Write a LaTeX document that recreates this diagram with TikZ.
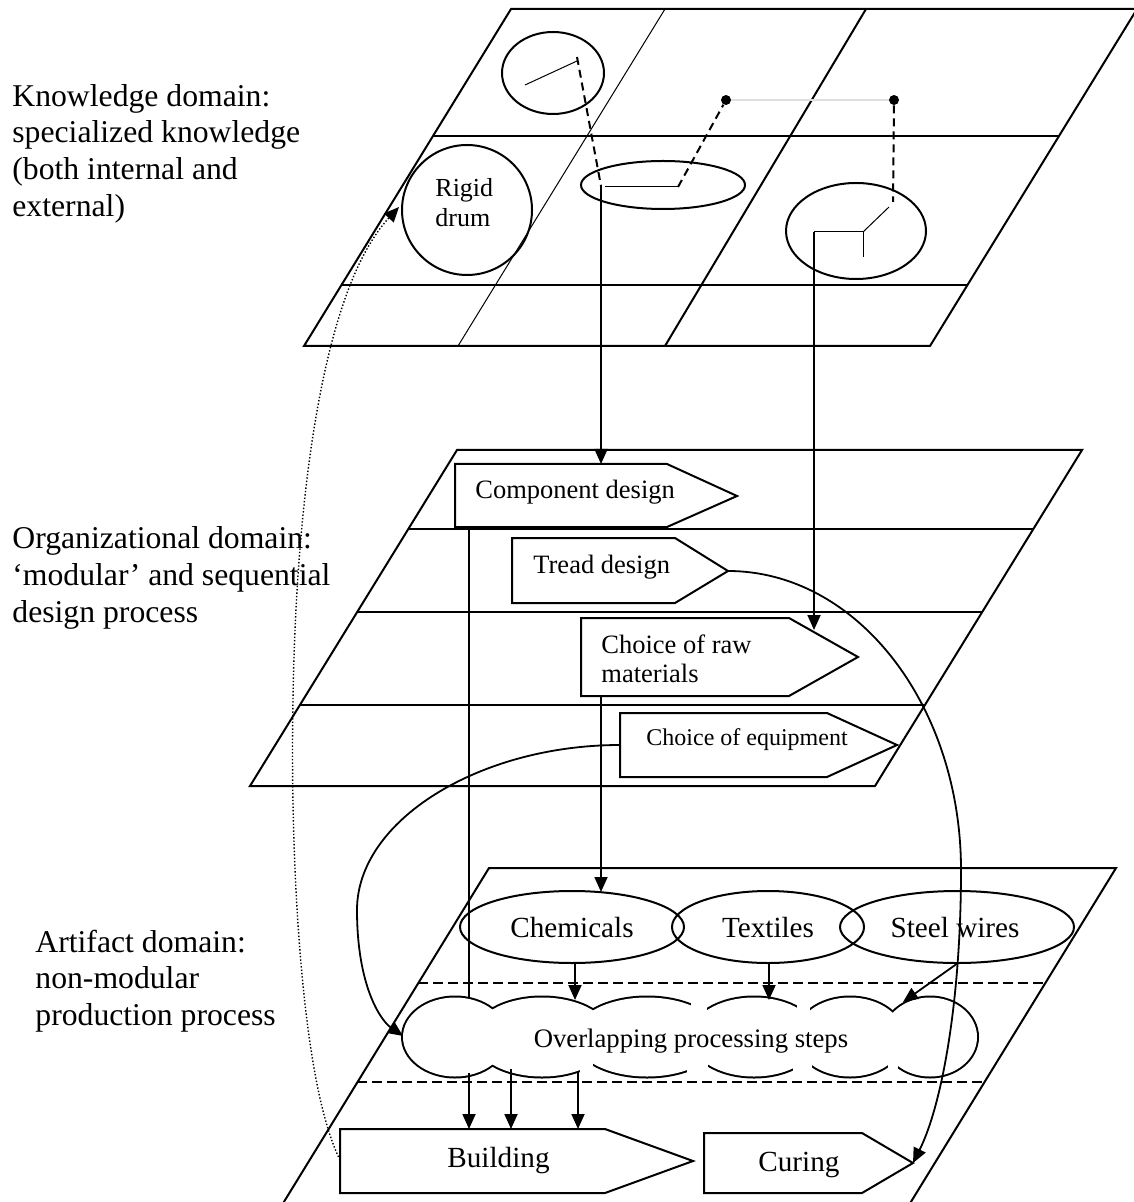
\documentclass[tikz,border=0pt]{standalone}
\usepackage{fontspec}
\setmainfont{Liberation Serif}
\usetikzlibrary{arrows.meta,shapes.geometric,calc}
\begin{document}
\begin{tikzpicture}[x=0.5pt,y=-0.5pt,
  edge/.style={line width=1pt},
  thinl/.style={line width=0.5pt},
  conn/.style={line width=0.9pt},
  tipa/.style={-{Triangle[length=7.5pt,width=6.5pt]}},
  dashl/.style={line width=1pt, dash pattern=on 4pt off 2.5pt},
  dashb/.style={line width=1pt, dash pattern=on 5pt off 2.5pt},
  dotl/.style={line width=0.7pt, dash pattern=on 0.7pt off 1pt},
  side/.style={font=\fontsize{15.85}{18}\selectfont, anchor=base west, inner sep=0pt},
  lblA/.style={font=\fontsize{13.25}{15}\selectfont, anchor=base west, inner sep=0pt},
  lblE/.style={font=\fontsize{12}{14}\selectfont, anchor=base west, inner sep=0pt},
  lblR/.style={font=\fontsize{13}{15}\selectfont, anchor=base west, inner sep=0pt},
  lblC/.style={font=\fontsize{14.6}{17}\selectfont, inner sep=0pt},
  lblO/.style={font=\fontsize{13.35}{15}\selectfont, anchor=base, inner sep=0pt},
  ell/.style={draw, line width=1pt, ellipse, inner sep=0pt},
  dotn/.style={circle, fill, minimum size=5pt, inner sep=0pt}
]
\useasboundingbox (0,0) rectangle (1133,1202);

% ---------- side labels ----------
\node[side] (kd1) at (12,107) {Knowledge domain:};
\node[side] (kd2) at (12,143) {specialized knowledge};
\node[side] (kd3) at (12,180) {(both internal and};
\node[side] (kd4) at (12,217) {external)};
\node[side] (od1) at (12,548) {Organizational domain:};
\node[side] (od2) at (12,585) {‘modular’ and sequential};
\node[side] (od3) at (12,622) {design process};
\node[side] (ad1) at (35,952) {Artifact domain:};
\node[side] (ad2) at (35,988) {non-modular};
\node[side] (ad3) at (35,1025) {production process};

% ---------- knowledge layer ----------
\draw[edge] (511,9) -- (1137,9) -- (930,346) -- (304,346) -- cycle;
\draw[edge] (433,136) -- (1059,136);
\draw[edge] (341,285) -- (967,285);
\draw[thinl] (665,9) -- (458,346);
\draw[edge] (866,9) -- (665,346);

\node[ell, minimum width=51pt, minimum height=41pt] (ka) at (553,73) {};
\node[ell, minimum width=82pt, minimum height=24pt] (kb) at (663,185) {};
\node[ell, minimum width=70pt, minimum height=48pt] (kc) at (856,231) {};
\node[draw, line width=1pt, circle, minimum size=65pt, inner sep=0pt] (drum) at (467,210) {};
\node[lblR] (rg1) at (435,197) {Rigid};
\node[lblR] (rg2) at (435,227) {drum};

\coordinate (kaA) at (525,85);
\coordinate (kaB) at (577,61);
\coordinate (kaD) at (577,57);
\coordinate (kbL) at (601,186);
\coordinate (kbA) at (605,187);
\coordinate (kbB) at (678,187);
\coordinate (kcE) at (893,202);
\coordinate (kcD) at (889,207);
\coordinate (kcJ) at (863,232);
\coordinate (kcL) at (814,232);
\coordinate (kcB) at (863,257);
\node[dotn] (d1) at (726,100) {};
\node[dotn] (d2) at (894,100) {};

\draw[thinl] (kaA) -- (kaB);
\draw[dashl] (kaD) -- (kbL);
\draw[thinl] (kbA) -- (kbB);
\draw[dashl] (kbB) -- (d1);
\draw[line width=0.6pt, gray!25] (d1) -- (d2);
\draw[dashl] (d2) -- (kcE);
\draw[thinl] (kcD) -- (kcJ);
\draw[thinl] (kcL) -- (kcJ) -- (kcB);

% ---------- organizational layer ----------
\draw[edge] (457,450) -- (1082,450) -- (875,786) -- (250,786) -- cycle;
\draw[edge] (408,529) -- (1033,529);
\draw[edge] (357,612) -- (982,612);
\draw[edge] (300,705) -- (925,705);

\draw[edge] (455,464) -- (667,464) -- (737,496) coordinate (cdTip) -- (667,527) -- (455,527) -- cycle;
\draw[edge] (512,538) -- (675,538) -- (728,571) coordinate (tdTip) -- (675,603) -- (512,603) -- cycle;
\draw[edge] (581,618) -- (789,618) -- (858,657) coordinate (rmTip) -- (789,696) -- (581,696) -- cycle;
\draw[edge] (620,713) coordinate (eqNW) -- (827,713) -- (897,745) coordinate (eqTip) -- (827,777) -- (620,777) -- cycle;
\coordinate (cdT) at (601,464);
\coordinate (cdB) at (469,527);
\coordinate (rmT) at (814,630);
\coordinate (rmB) at (601,696);
\coordinate (eqW) at (620,745);

\node[lblA] (cd) at (475,498) {Component design};
\node[lblA] (td) at (533,573) {Tread design};
\node[lblA] (rm1) at (601,653) {Choice of raw};
\node[lblA] (rm2) at (601,682) {materials};
\node[lblE] (eq) at (646,745) {Choice of equipment};

% ---------- artifact layer ----------
\draw[edge] (282,1205) -- (489,868) -- (1116,868) -- (909,1205);
\draw[dashb] (418,983) -- (1045,983);
\draw[dashb] (357,1082) -- (984,1082);

\node[ell, minimum width=112pt, minimum height=36pt] (chem) at (572,927) {};
\node[ell, minimum width=96pt, minimum height=36pt] (text) at (768,927) {};
\node[ell, minimum width=117pt, minimum height=36pt] (steel) at (957,927) {};
\node[lblC, anchor=base] (chemL) at (572,937) {Chemicals};
\node[lblC, anchor=base] (textL) at (768,937) {Textiles};
\node[lblC, anchor=base] (steelL) at (955,937) {Steel wires};

% cloud of overlapping steps
\foreach \cx/\r in {455/26,542/34.5,647/36.5,754/32,850/27,930/23.5}
  \draw[line width=2pt] (\cx,1037) ellipse [x radius=\r pt, y radius=19.75pt];
\foreach \cx/\r in {455/26,542/34.5,647/36.5,754/32,850/27,930/23.5}
  \fill[white] (\cx,1037) ellipse [x radius=\r pt, y radius=19.75pt];
% small breaks at the cusps of the cloud outline
\foreach \xa/\xb/\ya/\yb in {691/707/998/1015, 797/810/998/1015,
    580/593/1059/1077, 687/708/1059/1077, 793/812/1059/1077, 888/898/1059/1077}
  \fill[white] (\xa,\ya) rectangle (\xb,\yb);
\node[lblO] (ops) at (691,1047) {Overlapping processing steps};
\coordinate (cloudW) at (403,1036);

\draw[edge] (340,1129) -- (605,1129) -- (693,1161) -- (605,1193) -- (340,1193) coordinate (bdSW) -- cycle;
\draw[edge] (704,1133) -- (862,1133) -- (913,1163) coordinate (cuTip) -- (862,1193) -- (704,1193) -- cycle;
\coordinate (bdW) at (340,1160);
\node[lblC, anchor=base west] (bd) at (447,1167) {Building};
\node[lblC, anchor=base west] (cu) at (758,1171) {Curing};

% ---------- connectors ----------
\draw[conn, tipa] (kbL) -- (cdT);
\draw[conn, tipa] (kcL) -- (rmT);
\draw[conn, tipa] (rmB) -- (601,892);
\draw[conn] (cdB) -- (469,998);
\draw[conn, tipa] (575,963) -- (575,1000);
\draw[conn, tipa] (769,963) -- (769,1000);
\draw[conn, tipa] (958,963) -- (903,1002);
\draw[conn, tipa] (469,1073) -- (469,1129);
\draw[conn, tipa] (511,1069) -- (511,1129);
\draw[conn, tipa] (578,1071) -- (578,1129);

\draw[conn, tipa] (tdTip) .. controls (857,571) and (961,705) .. (961,870)
  .. controls (961,1000) and (942,1105) .. (cuTip);
\draw[conn, tipa] (eqW) .. controls (480,745) and (357,820) .. (357,910)
  .. controls (357,985) and (380,1020) .. (cloudW);
\draw[dotl, tipa] (bdW) .. controls (300,1080) and (290,850) .. (293,700)
  .. controls (296,500) and (322,290) .. (399,207);
\end{tikzpicture}
\end{document}
